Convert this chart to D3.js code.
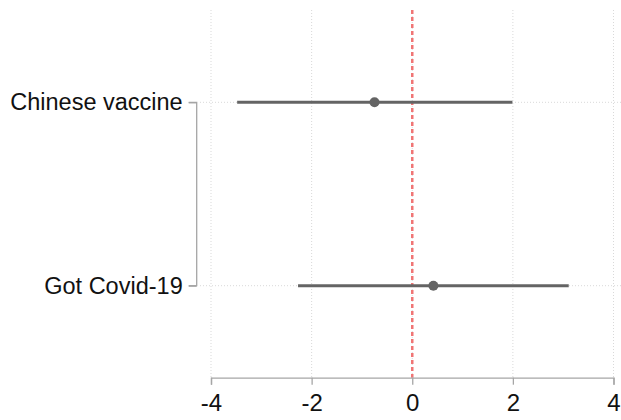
<!DOCTYPE html>
<html>
<head>
<meta charset="utf-8">
<script src="https://cdn.jsdelivr.net/npm/d3@7"></script>
<style>
  body { margin: 0; background: #fff; }
  text { font-family: "Liberation Sans", Arial, sans-serif; fill: #111; }
</style>
</head>
<body>
<svg id="chart" width="621" height="420"></svg>
<script>
// coefficient estimates with confidence intervals
const terms = ["Chinese vaccine", "Got Covid-19"];
const estimates = [-0.75, 0.42];
const lower = [-3.48, -2.27];
const upper = [1.99, 3.11];
const xTicks = [-4, -2, 0, 2, 4];

const svg = d3.select("#chart");

const x = d3.scaleLinear().domain([-4, 4]).range([211, 613.5]);
const y = d3.scalePoint().domain(terms).range([102.3, 285.7]);

const plotTop = 10, plotBottom = 377.7;

// vertical dotted grid
svg.append("g").selectAll("line")
    .data(xTicks)
    .enter().append("line")
    .attr("x1", d => x(d)).attr("x2", d => x(d))
    .attr("y1", plotTop).attr("y2", plotBottom)
    .attr("stroke", "#d9d9d9")
    .attr("stroke-width", 1)
    .attr("stroke-dasharray", "1,2");

// horizontal dotted grid
svg.append("g").selectAll("line")
    .data(terms)
    .enter().append("line")
    .attr("x1", 200).attr("x2", 621)
    .attr("y1", d => y(d)).attr("y2", d => y(d))
    .attr("stroke", "#d9d9d9")
    .attr("stroke-width", 1)
    .attr("stroke-dasharray", "1,2");

// reference line at zero
svg.append("line")
    .attr("x1", x(0)).attr("x2", x(0))
    .attr("y1", plotTop).attr("y2", plotBottom)
    .attr("stroke", "#f07575")
    .attr("stroke-width", 2.5)
    .attr("stroke-dasharray", "4,3");

// confidence intervals
const rows = terms.map((t, i) => ({ term: t, est: estimates[i], lo: lower[i], hi: upper[i] }));

svg.append("g").selectAll("line")
    .data(rows)
    .enter().append("line")
    .attr("x1", d => x(d.lo)).attr("x2", d => x(d.hi))
    .attr("y1", d => y(d.term)).attr("y2", d => y(d.term))
    .attr("stroke", "#646464")
    .attr("stroke-width", 3);

svg.append("g").selectAll("circle")
    .data(rows)
    .enter().append("circle")
    .attr("cx", d => x(d.est))
    .attr("cy", d => y(d.term))
    .attr("r", 5)
    .attr("fill", "#646464");

// x axis
const xAxis = svg.append("g")
    .attr("transform", `translate(0,${plotBottom})`)
    .call(d3.axisBottom(x).tickValues(xTicks).tickSize(7).tickPadding(9).tickFormat(d3.format("d")));
xAxis.select(".domain").attr("stroke", "#a6a6a6").attr("stroke-width", 1.3);
xAxis.selectAll(".tick line").attr("stroke", "#a6a6a6").attr("stroke-width", 1.3);
xAxis.selectAll(".tick text")
    .attr("font-size", "24px")
    .attr("font-family", "Liberation Sans, Arial, sans-serif")
    .attr("fill", "#111")
    .text(d => d < 0 ? "-" + Math.abs(d) : d);

// y axis
const yAxis = svg.append("g")
    .attr("transform", "translate(196.7,0)")
    .call(d3.axisLeft(y).tickSize(8).tickPadding(6));
yAxis.select(".domain").attr("stroke", "#a6a6a6").attr("stroke-width", 1.3)
    .attr("d", `M-8,${y(terms[0])}H0V${y(terms[1])}H-8`);
yAxis.selectAll(".tick line").attr("stroke", "#a6a6a6").attr("stroke-width", 1.3);
yAxis.selectAll(".tick text")
    .attr("font-size", "23.5px")
    .attr("font-family", "Liberation Sans, Arial, sans-serif")
    .attr("fill", "#111");
</script>
</body>
</html>
